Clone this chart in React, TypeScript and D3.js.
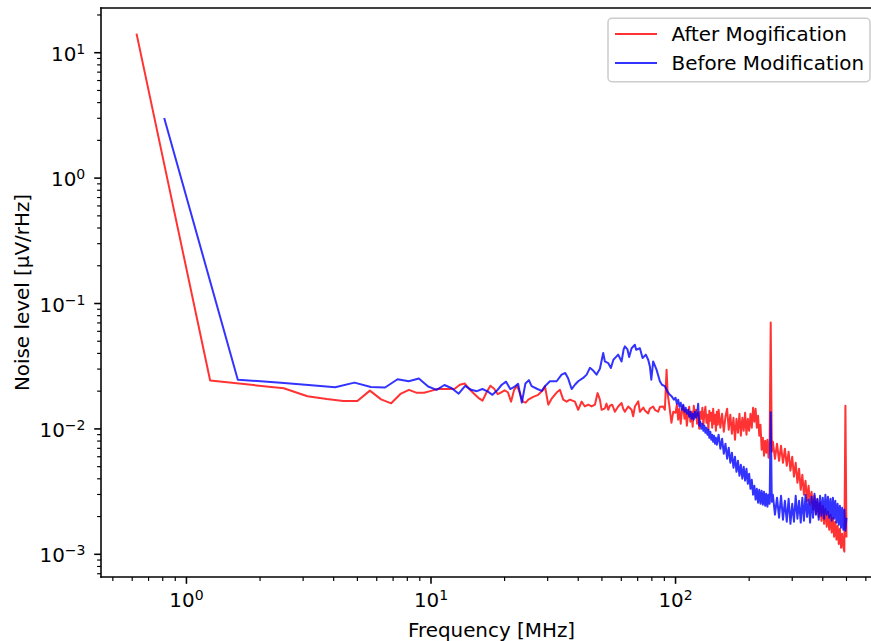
import React from "react";
import * as d3 from "d3";

// Noise spectrum after the modification (frequency in MHz, level in µV/rHz)
const redFreqMHz = [
  0.625, 1.25, 2.5, 3.125, 3.75, 4.375, 5.0, 5.625, 6.25, 6.875, 7.5, 8.125, 8.75, 9.375, 10.0,
  10.625, 11.25, 11.875, 12.5, 13.125, 13.75, 14.375, 15.0, 15.625, 16.25, 16.875, 17.5, 18.125,
  18.75, 19.375, 20.0, 20.625, 21.25, 21.875, 22.5, 23.125, 23.75, 24.375, 25.0, 26.19, 27.45,
  28.77, 29.24, 30.17, 31.14, 32.64, 33.67, 34.73, 35.86, 36.99, 38.77, 39.99, 41.29, 42.59, 43.94,
  45.37, 46.8, 48.0, 49.06, 49.85, 51.42, 52.2, 53.05, 53.9, 55.08, 56.49, 58.27, 60.16, 61.1,
  62.07, 64.03, 66.11, 67.1, 68.2, 70.4, 71.48, 73.8, 74.93, 77.3, 78.53, 81.0, 82.32, 84.9, 86.28,
  89.0, 90.44, 91.9, 92.8, 94.2, 96.2, 97.9,
];
const redNoise = [
  14.2, 0.0243, 0.0211, 0.0182, 0.0173, 0.0167, 0.0167, 0.0202, 0.0172, 0.016, 0.019, 0.0205, 0.0194,
  0.0194, 0.0201, 0.0208, 0.0208, 0.0208, 0.0209, 0.0225, 0.023, 0.0207, 0.0191, 0.0177, 0.0168,
  0.0196, 0.0221, 0.0209, 0.0189, 0.0196, 0.0203, 0.0196, 0.0165, 0.0205, 0.0221, 0.0191, 0.0165,
  0.0162, 0.0171, 0.018, 0.0187, 0.0205, 0.0219, 0.0156, 0.0174, 0.0195, 0.0205, 0.0171, 0.0165,
  0.0171, 0.0165, 0.0142, 0.0165, 0.0151, 0.0156, 0.0151, 0.0156, 0.0193, 0.0171, 0.0142, 0.0146,
  0.0159, 0.0142, 0.0153, 0.0156, 0.0137, 0.0151, 0.0161, 0.0145, 0.0137, 0.0151, 0.0142, 0.0126,
  0.0151, 0.0166, 0.0137, 0.0148, 0.014, 0.0133, 0.0145, 0.0151, 0.0142, 0.0137, 0.015, 0.0151,
  0.0142, 0.0297, 0.0192, 0.0156, 0.0112, 0.0137,
];

// Noise spectrum before the modification
const blueFreqMHz = [
  0.811, 1.622, 2.433, 3.244, 4.055, 4.866, 5.677, 6.488, 7.299, 8.11, 8.921, 9.732, 10.54, 11.35,
  12.16, 12.98, 13.79, 14.6, 15.41, 16.22, 17.03, 17.84, 18.65, 19.47, 20.28, 21.09, 21.9, 22.71,
  23.52, 24.33, 25.14, 25.79, 27.1, 28.35, 29.24, 30.65, 32.64, 34.2, 35.4, 36.4, 37.6, 38.77, 39.99,
  41.9, 43.3, 44.65, 46.05, 47.55, 49.06, 50.6, 51.42, 53.05, 54.4, 55.7, 56.49, 58.27, 60.16, 61.3,
  62.07, 63.6, 64.6, 66.11, 68.2, 69.0, 71.48, 73.3, 75.6, 77.3, 78.53, 79.6, 81.0, 83.6, 86.28, 88.0,
  90.4, 92.6, 94.8, 96.6, 98.5,
];
const blueNoise = [
  3.01, 0.0247, 0.0233, 0.0223, 0.0215, 0.0234, 0.0216, 0.0214, 0.0249, 0.024, 0.0252, 0.0218, 0.0205,
  0.0224, 0.0211, 0.0191, 0.022, 0.0205, 0.02, 0.0208, 0.0199, 0.0187, 0.0203, 0.0225, 0.0238, 0.0208,
  0.0216, 0.0229, 0.0162, 0.023, 0.0245, 0.0219, 0.0209, 0.0201, 0.0219, 0.024, 0.024, 0.0271, 0.0279,
  0.0252, 0.0208, 0.0225, 0.024, 0.0255, 0.0271, 0.0307, 0.0292, 0.0271, 0.0302, 0.0403, 0.0345,
  0.0335, 0.0306, 0.0356, 0.0367, 0.0391, 0.0345, 0.0428, 0.0455, 0.043, 0.0375, 0.044, 0.0469,
  0.0428, 0.044, 0.0367, 0.0391, 0.0356, 0.0315, 0.0247, 0.0345, 0.0297, 0.024, 0.0225, 0.0219,
  0.0199, 0.0187, 0.0181, 0.0171,
];

// Upper band, 100 - 500 MHz, sampled on a common frequency grid
const hfFreqMHz = [
  100, 101.25, 102.5, 103.75, 105, 106.25, 107.5, 108.75, 110, 111.25, 112.5, 113.75, 115, 116.25,
  117.5, 118.75, 120, 121.25, 122.5, 123.75, 125, 126.25, 127.5, 128.75, 130, 131.25, 132.5, 133.75,
  135, 136.25, 137.5, 138.75, 140, 141.25, 142.5, 143.75, 145, 146.25, 147.5, 148.75,
  150, 152.5, 155, 157.5, 160, 162.5, 165, 167.5, 170, 172.5, 175, 177.5, 180, 182.5, 185, 187.5,
  190, 192.5, 195, 197.5, 200, 202.5, 205, 207.5, 210, 212.5, 215, 217.5, 220, 222.5, 225, 227.5,
  230, 232.5, 235, 237.5, 240, 242.5, 245, 247.5,
  250, 255, 260, 265, 270, 275, 280, 285, 290, 295, 300, 305, 310, 315, 320, 325, 330, 335, 340, 345,
  350, 355, 360, 365, 370, 375, 380, 385, 390, 395, 400, 405, 410, 415, 420, 425, 430, 435, 440, 445,
  450, 455, 460, 465, 470, 475, 480, 485, 490, 495, 500,
];
const redNoiseHf = [
  0.01346, 0.0156, 0.01184, 0.01449, 0.01099, 0.01397, 0.01531, 0.01205, 0.01423, 0.0106,
  0.01321, 0.01503, 0.01141, 0.01371, 0.01041, 0.01531, 0.01251, 0.01423, 0.01099, 0.01346,
  0.01003, 0.01371, 0.01205, 0.01476, 0.0108, 0.01321, 0.01503, 0.0112, 0.01298, 0.00985,
  0.01397, 0.01162, 0.01346, 0.01022, 0.01449, 0.01099, 0.01298, 0.00967, 0.01371, 0.0108,
  0.01423, 0.01022, 0.01321, 0.00949, 0.01251, 0.01449, 0.00985, 0.01298, 0.00915, 0.01228,
  0.0082, 0.01205, 0.00932, 0.01321, 0.00882, 0.01228, 0.00967, 0.01346, 0.00899, 0.01205,
  0.00967, 0.01321, 0.01022, 0.01476, 0.01141, 0.01449, 0.01022, 0.01274, 0.00882, 0.0108,
  0.00683, 0.0085, 0.00611, 0.00805, 0.00646, 0.0082, 0.00589, 0.00762, 0.0706, 0.00658,
  0.0079, 0.00578, 0.00762, 0.00557, 0.00734, 0.00537, 0.00695, 0.00508, 0.00658, 0.00464,
  0.006, 0.00416, 0.00537, 0.00372, 0.00481, 0.00327, 0.00431, 0.00299, 0.00386, 0.00267,
  0.00352, 0.00249, 0.00315, 0.00227, 0.00293, 0.00211, 0.00273, 0.00199, 0.00258, 0.00185,
  0.00244, 0.00175, 0.00231, 0.00166, 0.00219, 0.00157, 0.00207, 0.00149, 0.00196, 0.00138,
  0.00182, 0.00131, 0.00169, 0.00121, 0.0016, 0.00113, 0.00146, 0.00115, 0.00105, 0.0153, 0.00136,
];
const blueNoiseHf = [
  0.01773, 0.01588, 0.0171, 0.01503, 0.01617, 0.01423, 0.0156, 0.01371, 0.01476, 0.01321,
  0.01423, 0.01251, 0.01371, 0.01205, 0.01321, 0.01184, 0.01371, 0.01228, 0.01298, 0.01588,
  0.0106, 0.01141, 0.01003, 0.01099, 0.00967, 0.0106, 0.00932, 0.01022, 0.00899, 0.00985,
  0.0085, 0.00949, 0.0082, 0.00899, 0.0079, 0.00882, 0.00762, 0.0085, 0.00748, 0.0082,
  0.00899, 0.00695, 0.00835, 0.00634, 0.00762, 0.00578, 0.00708, 0.00537, 0.00646, 0.0049,
  0.006, 0.00455, 0.00557, 0.00423, 0.00518, 0.00401, 0.00499, 0.00386, 0.00481, 0.00365,
  0.00439, 0.00333, 0.00393, 0.00299, 0.00352, 0.00273, 0.00333, 0.00258, 0.00327, 0.00253,
  0.00321, 0.00249, 0.00315, 0.00244, 0.00304, 0.0024, 0.00299, 0.00253, 0.0136, 0.00263,
  0.00299, 0.00207, 0.00283, 0.00196, 0.00293, 0.00189, 0.00267, 0.00182, 0.00277, 0.00175,
  0.00253, 0.00182, 0.00293, 0.00192, 0.00267, 0.00179, 0.00283, 0.00185, 0.00299, 0.00199,
  0.00273, 0.00179, 0.00288, 0.00196, 0.00304, 0.00207, 0.00277, 0.00189, 0.00293, 0.00203,
  0.00283, 0.00192, 0.00299, 0.00207, 0.00288, 0.00196, 0.00277, 0.00185, 0.00283, 0.00192,
  0.00267, 0.00179, 0.00253, 0.00172, 0.00244, 0.00163, 0.00235, 0.00157, 0.00227, 0.00154, 0.00196,
];

const seriesLabels = ["After Mogification", "Before Modification"];
const seriesColors = ["#ff0000", "#0000ff"];

const W = 871;
const H = 641;
const FONT = "DejaVu Sans, Verdana, sans-serif";
const FS = 19.9;

type Pt = [number, number];
const zip = (fs: number[], vs: number[]): Pt[] => fs.map((f, i) => [f, vs[i]] as Pt);

export default function App() {
  const left = 101;
  const right = 882;
  const top = 8;
  const bottom = 577;

  const x = d3.scaleLog().domain([0.4473, 698.6]).range([left, right]);
  const y = d3.scaleLog().domain([6.592e-4, 22.73]).range([bottom, top]);

  const red = [...zip(redFreqMHz, redNoise), ...zip(hfFreqMHz, redNoiseHf)];
  const blue = [...zip(blueFreqMHz, blueNoise), ...zip(hfFreqMHz, blueNoiseHf)];

  const line = d3
    .line<Pt>()
    .x((d) => x(d[0]))
    .y((d) => y(d[1]));

  const isMajor = (v: number) => Math.abs(Math.log10(v) - Math.round(Math.log10(v))) < 1e-6;
  const xTicks = x.ticks();
  const yTicks = y.ticks();

  const majorLen = 6.8;
  const minorLen = 3.9;
  const supSize = 14;

  return (
    <svg
      width={W}
      height={H}
      viewBox={`0 0 ${W} ${H}`}
      style={{ position: "absolute", left: 0, top: 0, background: "#fff" }}
      fontFamily={FONT}
    >
      <defs>
        <clipPath id="plotArea">
          <rect x={left} y={top} width={right - left} height={bottom - top} />
        </clipPath>
      </defs>
      <rect x={0} y={0} width={W} height={H} fill="#fff" />

      <g clipPath="url(#plotArea)" fill="none" strokeWidth={2} strokeLinejoin="round">
        <path d={line(red) ?? ""} stroke={seriesColors[0]} strokeOpacity={0.8} />
        <path d={line(blue) ?? ""} stroke={seriesColors[1]} strokeOpacity={0.8} />
      </g>

      {/* x ticks */}
      {xTicks.map((t, i) => {
        const major = isMajor(t);
        const px = x(t);
        return (
          <line
            key={`xt${i}`}
            x1={px}
            x2={px}
            y1={bottom}
            y2={bottom + (major ? majorLen : minorLen)}
            stroke="#000"
            strokeWidth={major ? 1.56 : 1.17}
          />
        );
      })}
      {xTicks.filter(isMajor).map((t, i) => (
        <text key={`xl${i}`} x={x(t)} y={607.3} textAnchor="middle" fontSize={FS} fill="#000">
          10
          <tspan dy={-7} fontSize={supSize}>
            {Math.round(Math.log10(t)) < 0 ? "\u2212" : ""}
            {Math.abs(Math.round(Math.log10(t)))}
          </tspan>
        </text>
      ))}

      {/* y ticks */}
      {yTicks.map((t, i) => {
        const major = isMajor(t);
        const py = y(t);
        return (
          <line
            key={`yt${i}`}
            x1={left}
            x2={left - (major ? majorLen : minorLen)}
            y1={py}
            y2={py}
            stroke="#000"
            strokeWidth={major ? 1.56 : 1.17}
          />
        );
      })}
      {yTicks.filter(isMajor).map((t, i) => {
        const e = Math.round(Math.log10(t));
        return (
          <text key={`yl${i}`} x={e < 0 ? 39.5 : 51} y={y(t) + 8} fontSize={FS} fill="#000">
            10
            <tspan dy={-7} fontSize={supSize}>
              {e < 0 ? "\u2212" : ""}
              {Math.abs(e)}
            </tspan>
          </text>
        );
      })}

      {/* spines */}
      <g stroke="#000" strokeWidth={1.56} strokeLinecap="square">
        <line x1={left} x2={left} y1={top} y2={bottom} />
        <line x1={left} x2={right} y1={bottom} y2={bottom} />
        <line x1={left} x2={right} y1={top} y2={top} />
        <line x1={right} x2={right} y1={top} y2={bottom} />
      </g>

      {/* axis labels */}
      <text x={(left + right) / 2} y={636.7} textAnchor="middle" fontSize={FS} fill="#000">
        Frequency [MHz]
      </text>
      <text
        transform={`translate(28.5, ${(top + bottom) / 2}) rotate(-90)`}
        textAnchor="middle"
        fontSize={FS}
        fill="#000"
      >
        Noise level [µV/rHz]
      </text>

      {/* legend */}
      <g>
        <rect
          x={608}
          y={18.3}
          width={262}
          height={63.4}
          rx={3.9}
          ry={3.9}
          fill="#fff"
          fillOpacity={0.8}
          stroke="#cccccc"
          strokeWidth={1.5}
        />
        {seriesLabels.map((label, i) => (
          <g key={label}>
            <line
              x1={615}
              x2={657}
              y1={34 + i * 29}
              y2={34 + i * 29}
              stroke={seriesColors[i]}
              strokeOpacity={0.8}
              strokeWidth={2}
            />
            <text x={671.5} y={40.7 + i * 29.3} fontSize={FS} fill="#000">
              {label}
            </text>
          </g>
        ))}
      </g>
    </svg>
  );
}
